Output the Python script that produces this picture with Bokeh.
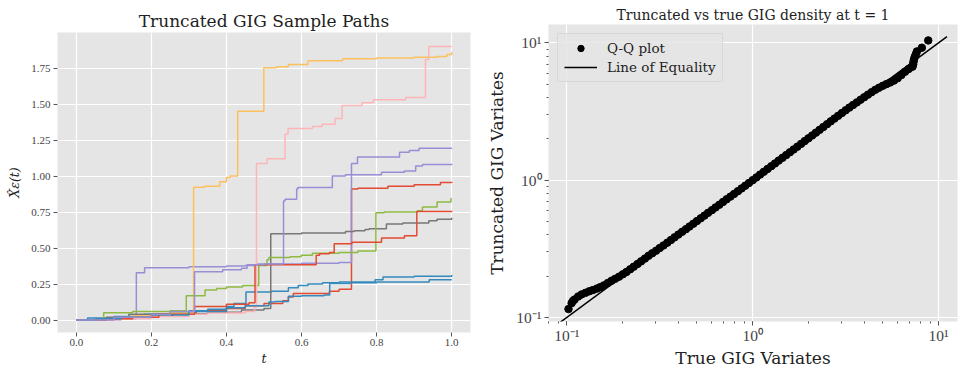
from bokeh.plotting import figure
from bokeh.layouts import row
from bokeh.models import (Range1d, FixedTicker, NumeralTickFormatter,
                          CustomJSTickFormatter, Legend, LegendItem)
from bokeh.embed import file_html
from bokeh.resources import INLINE

# ---------------- data: left panel (step paths) ----------------
red_a_t = [0, 0.05, 0.12, 0.2, 0.26, 0.32, 0.4, 0.45, 0.5, 0.55, 0.565, 0.578, 0.674, 0.70, 0.733, 0.75, 0.83, 0.9, 0.97, 1.0]
red_a_v = [0, 0.005, 0.015, 0.03, 0.05, 0.065, 0.08, 0.10, 0.115, 0.135, 0.16, 0.185, 0.20, 0.215, 0.91, 0.915, 0.93, 0.94, 0.955, 0.96]

blue_a_t = [0, 0.03, 0.1, 0.18, 0.25, 0.3, 0.35, 0.40, 0.42, 0.452, 0.52, 0.565, 0.591, 0.617, 0.656, 0.7, 0.796, 0.817, 0.9, 1.0]
blue_a_v = [0, 0.015, 0.025, 0.04, 0.055, 0.065, 0.075, 0.095, 0.115, 0.195, 0.20, 0.224, 0.24, 0.25, 0.26, 0.265, 0.28, 0.30, 0.305, 0.313]

purple_a_t = [0, 0.06, 0.12, 0.16, 0.182, 0.3, 0.4, 0.45, 0.48, 0.6, 0.7, 0.733, 0.749, 0.861, 0.887, 0.913, 1.0]
purple_a_v = [0, 0.005, 0.01, 0.328, 0.364, 0.37, 0.375, 0.38, 0.39, 0.395, 0.40, 1.088, 1.133, 1.166, 1.178, 1.193, 1.195]

gray_t = [0, 0.08, 0.14, 0.2, 0.35, 0.44, 0.5, 0.518, 0.6, 0.717, 0.74, 0.769, 0.78, 0.826, 0.87, 0.939, 0.961, 1.0]
gray_v = [0, 0.02, 0.04, 0.045, 0.055, 0.07, 0.08, 0.60, 0.605, 0.615, 0.62, 0.63, 0.635, 0.667, 0.675, 0.69, 0.70, 0.711]

yellow_t = [0, 0.05, 0.15, 0.25, 0.3125, 0.342, 0.382, 0.40, 0.41, 0.430, 0.4996, 0.534, 0.565, 0.617, 0.709, 0.8, 0.9, 0.961, 0.987, 1.0]
yellow_v = [0, 0.01, 0.03, 0.05, 0.922, 0.93, 0.96, 0.99, 1.0, 1.45, 1.753, 1.76, 1.775, 1.80, 1.815, 1.82, 1.825, 1.83, 1.845, 1.86]

green_t = [0, 0.073, 0.15, 0.25, 0.293, 0.343, 0.374, 0.40, 0.443, 0.486, 0.508, 0.513, 0.569, 0.599, 0.629, 0.7, 0.75, 0.798, 0.82, 0.909, 0.922, 0.961, 0.998, 1.0]
green_v = [0, 0.051, 0.06, 0.065, 0.169, 0.209, 0.22, 0.23, 0.24, 0.379, 0.419, 0.435, 0.44, 0.45, 0.465, 0.47, 0.48, 0.745, 0.75, 0.76, 0.785, 0.82, 0.845, 0.845]

pink_t = [0, 0.1, 0.2, 0.3, 0.35, 0.45, 0.475, 0.48, 0.508, 0.556, 0.564, 0.629, 0.655, 0.689, 0.708, 0.761, 0.791, 0.877, 0.930, 0.939, 1.0]
pink_v = [0, 0.01, 0.025, 0.04, 0.05, 0.06, 0.09, 1.088, 1.12, 1.292, 1.33, 1.345, 1.36, 1.40, 1.49, 1.51, 1.53, 1.545, 1.81, 1.90, 1.90]

red_b_t = [0, 0.08, 0.15, 0.22, 0.315, 0.40, 0.46, 0.476, 0.639, 0.648, 0.674, 0.687, 0.734, 0.813, 0.874, 0.907, 1.0]
red_b_v = [0, 0.01, 0.02, 0.04, 0.095, 0.11, 0.12, 0.385, 0.45, 0.46, 0.47, 0.53, 0.54, 0.57, 0.585, 0.755, 0.76]

blue_b_t = [0, 0.05, 0.12, 0.2, 0.3, 0.4, 0.45, 0.513, 0.53, 0.565, 0.6, 0.66, 0.675, 0.73, 0.8, 0.94, 1.0]
blue_b_v = [0, 0.01, 0.02, 0.035, 0.06, 0.085, 0.10, 0.125, 0.13, 0.165, 0.17, 0.175, 0.255, 0.26, 0.265, 0.28, 0.28]

purple_b_t = [0, 0.1, 0.2, 0.25, 0.315, 0.39, 0.44, 0.455, 0.5, 0.552, 0.556, 0.587, 0.59, 0.682, 0.717, 0.813, 0.874, 0.904, 0.922, 1.0]
purple_b_v = [0, 0.02, 0.04, 0.06, 0.335, 0.35, 0.36, 0.385, 0.39, 0.827, 0.84, 0.911, 0.92, 1.0, 1.01, 1.027, 1.035, 1.07, 1.08, 1.085]

left_x_ticks = [0.0, 0.2, 0.4, 0.6, 0.8, 1.0]
left_y_ticks = [0.0, 0.25, 0.5, 0.75, 1.0, 1.25, 1.5, 1.75]

# ---------------- data: right panel (Q-Q) ----------------
qq_true = [0.102, 0.106, 0.108, 0.110, 0.115, 0.120, 0.126, 0.132, 0.138, 0.145, 0.151, 0.158, 0.166,
           0.174, 0.182, 0.191, 0.200, 0.209, 0.219, 0.229, 0.240, 0.251, 0.263, 0.275, 0.288,
           0.302, 0.316, 0.331, 0.347, 0.363, 0.380, 0.398, 0.417, 0.437, 0.457, 0.479, 0.501,
           0.525, 0.550, 0.575, 0.603, 0.631, 0.661, 0.692, 0.724, 0.759, 0.794, 0.832, 0.871,
           0.912, 0.955, 1.000, 1.047, 1.096, 1.148, 1.202, 1.259, 1.318, 1.380, 1.445, 1.514,
           1.585, 1.660, 1.738, 1.820, 1.905, 1.995, 2.089, 2.188, 2.291, 2.399, 2.512, 2.630,
           2.754, 2.884, 3.020, 3.162, 3.311, 3.467, 3.631, 3.802, 3.981, 4.169, 4.365, 4.571,
           4.786, 5.012, 5.248, 5.495, 5.754, 6.026, 6.310, 6.607, 6.918, 7.244, 7.30, 7.33,
           7.37, 7.45, 7.55, 7.65, 8.13, 8.80]
qq_trunc = [0.115, 0.127, 0.132, 0.135, 0.142, 0.147, 0.151, 0.155, 0.158, 0.162, 0.166, 0.171, 0.178,
            0.185, 0.191, 0.198, 0.206, 0.214, 0.224, 0.234, 0.245, 0.256, 0.268, 0.281, 0.293,
            0.306, 0.320, 0.334, 0.350, 0.366, 0.383, 0.401, 0.420, 0.439, 0.459, 0.481, 0.503,
            0.527, 0.551, 0.577, 0.604, 0.632, 0.661, 0.693, 0.725, 0.758, 0.793, 0.830, 0.869,
            0.910, 0.953, 0.999, 1.046, 1.097, 1.150, 1.205, 1.263, 1.322, 1.386, 1.452, 1.521,
            1.594, 1.670, 1.750, 1.834, 1.922, 2.015, 2.112, 2.215, 2.322, 2.436, 2.553, 2.677,
            2.805, 2.939, 3.078, 3.222, 3.370, 3.522, 3.680, 3.845, 4.013, 4.190, 4.370, 4.545,
            4.705, 4.860, 5.000, 5.140, 5.300, 5.520, 5.820, 6.150, 6.450, 6.700, 6.95, 7.25,
            7.55, 7.90, 8.25, 8.65, 9.20, 10.4]
eq_x = [0.09, 11.1]
eq_y = [0.09, 11.1]

NUM_FONT = "Liberation Serif"
TXT_FONT = "DejaVu Serif"
BG = "#E5E5E5"
TICK = "#555555"

paths = [
    (red_a_t, red_a_v, "#E24A33"),
    (blue_a_t, blue_a_v, "#348ABD"),
    (purple_a_t, purple_a_v, "#988ED5"),
    (gray_t, gray_v, "#777777"),
    (yellow_t, yellow_v, "#FBC15E"),
    (green_t, green_v, "#8EBA42"),
    (pink_t, pink_v, "#FFB5B8"),
    (red_b_t, red_b_v, "#E24A33"),
    (blue_b_t, blue_b_v, "#348ABD"),
    (purple_b_t, purple_b_v, "#988ED5"),
]


def style(p, tick_size, label_size, title_size):
    p.background_fill_color = BG
    p.border_fill_color = "white"
    p.outline_line_color = None
    p.grid.grid_line_color = "white"
    p.grid.grid_line_width = 1.2
    if "frame_align" in p.properties():
        p.frame_align = False
    for ax in p.axis:
        ax.axis_line_color = None
        ax.major_tick_line_color = TICK
        ax.major_tick_out = 4
        ax.major_tick_in = 0
        ax.major_label_standoff = 3
        ax.axis_label_standoff = 6
        ax.major_label_text_font = NUM_FONT
        ax.major_label_text_font_size = tick_size
        ax.major_label_text_color = "#444444"
        ax.axis_label_text_font = TXT_FONT
        ax.axis_label_text_font_size = label_size
        ax.axis_label_text_font_style = "normal"
        ax.axis_label_text_color = "#222222"
    p.title.text_font = TXT_FONT
    p.title.text_font_size = title_size
    p.title.text_font_style = "normal"
    p.title.text_color = "#222222"
    p.title.align = "center"
    p.title.standoff = 3


# ---------------- left figure ----------------
left = figure(width=480, height=370, output_backend="svg", toolbar_location=None,
              x_range=Range1d(-0.05, 1.05), y_range=Range1d(-0.086, 1.997),
              min_border_left=57, min_border_right=10, min_border_top=32, min_border_bottom=38,
              title="Truncated GIG Sample Paths")
for t, v, c in paths:
    left.step(t, v, mode="after", line_color=c, line_width=1.5)
style(left, "11px", "12.5px", "17px")
left.xaxis.ticker = FixedTicker(ticks=left_x_ticks)
left.yaxis.ticker = FixedTicker(ticks=left_y_ticks)
left.xaxis.formatter = NumeralTickFormatter(format="0.0")
left.yaxis.formatter = NumeralTickFormatter(format="0.00")
left.xaxis.minor_tick_line_color = None
left.yaxis.minor_tick_line_color = None
left.xaxis.axis_label = "t"
left.xaxis.axis_label_text_font_style = "italic"
left.yaxis.axis_label = "X\u0302\u03b5(t)"
left.yaxis.axis_label_text_font_style = "italic"
left.xaxis.major_label_standoff = 2
left.xaxis.axis_label_standoff = 2

# ---------------- right figure ----------------
right = figure(width=479, height=370, output_backend="svg", toolbar_location=None,
               x_axis_type="log", y_axis_type="log",
               x_range=Range1d(10 ** -1.099, 10 ** 1.102), y_range=Range1d(10 ** -1.030, 10 ** 1.133),
               min_border_left=68, min_border_right=2, min_border_top=24, min_border_bottom=46,
               title="Truncated vs true GIG density at t = 1")
eq = right.line(eq_x, eq_y, line_color="black", line_width=1.5)
sc = right.scatter(qq_true, qq_trunc, size=7.5, fill_color="black", line_color="black")
style(right, "15.5px", "17px", "14px")
sup_fmt = CustomJSTickFormatter(code="""
const e = Math.round(Math.log10(tick));
const m = {"-": "\u207b", "0": "\u2070", "1": "\u00b9", "2": "\u00b2", "3": "\u00b3"};
return "10" + String(e).split("").map(c => m[c] || c).join("");
""")
right.xaxis.formatter = sup_fmt
right.yaxis.formatter = sup_fmt
for ax in right.axis:
    ax.minor_tick_line_color = TICK
    ax.minor_tick_out = 2
    ax.minor_tick_in = 0
right.xaxis.axis_label = "True GIG Variates"
right.yaxis.axis_label = "Truncated GIG Variates"
right.xaxis.major_label_standoff = 1
right.xaxis.axis_label_standoff = 1

legend = Legend(items=[LegendItem(label="Q-Q plot", renderers=[sc]),
                       LegendItem(label="Line of Equality", renderers=[eq])],
                location="top_left", margin=9)
legend.label_text_font = TXT_FONT
legend.label_text_font_size = "13.5px"
legend.label_text_color = "#222222"
legend.background_fill_color = BG
legend.background_fill_alpha = 0.8
legend.border_line_color = "#CCCCCC"
legend.glyph_width = 33
legend.glyph_height = 16
legend.padding = 6
legend.spacing = 3
legend.label_standoff = 10
right.add_layout(legend)

layout = row(left, right)
with open("out.html", "w", encoding="utf-8") as f:
    f.write(file_html(layout, INLINE))
